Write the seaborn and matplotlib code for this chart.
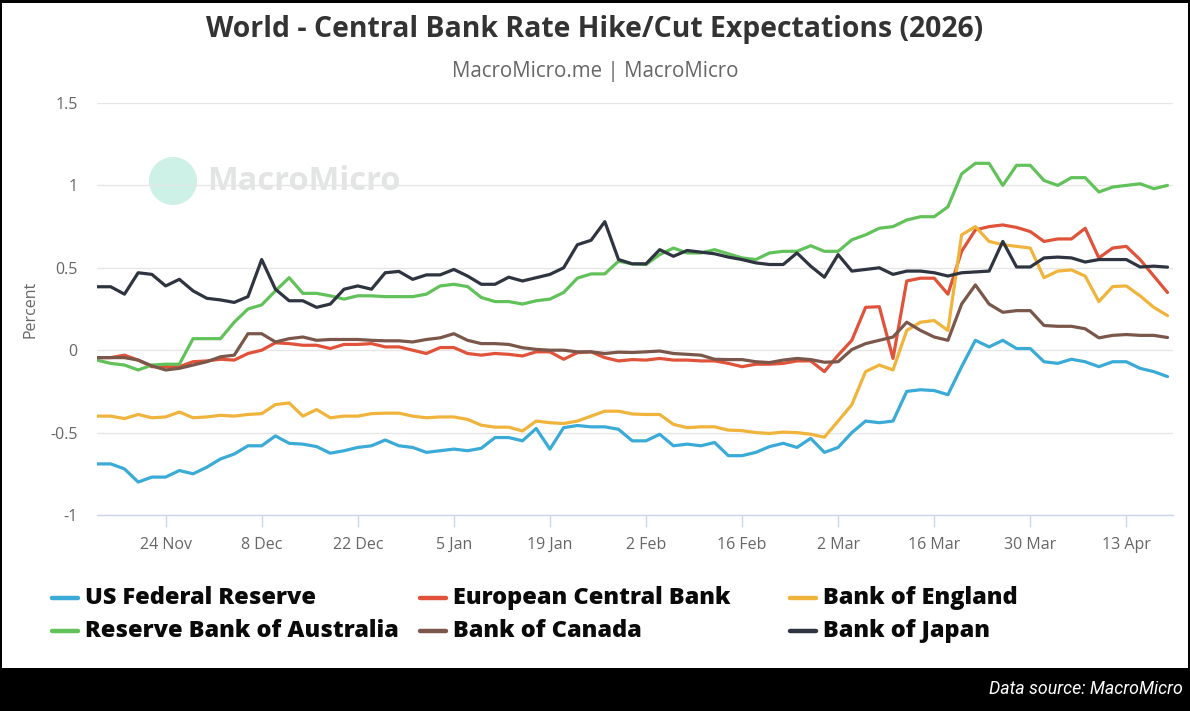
import matplotlib
matplotlib.use("Agg")
import pandas as pd
import matplotlib.pyplot as plt
from matplotlib.lines import Line2D
from matplotlib.patches import Rectangle, Ellipse
import seaborn as sns

# Données (un point tous les 2 jours)
dates = pd.date_range("2025-11-14", periods=79, freq="2D")

fed = [
    -0.69, -0.69, -0.72, -0.80, -0.77, -0.77, -0.73, -0.75, -0.71, -0.66,
    -0.63, -0.58, -0.58, -0.52, -0.565, -0.57, -0.585, -0.625, -0.61, -0.59,
    -0.58, -0.545, -0.58, -0.59, -0.62, -0.61, -0.60, -0.61, -0.595, -0.53,
    -0.53, -0.55, -0.475, -0.60, -0.47, -0.457, -0.465, -0.465, -0.48, -0.55,
    -0.55, -0.51, -0.58, -0.57, -0.58, -0.56, -0.64, -0.64, -0.62, -0.585,
    -0.565, -0.59, -0.535, -0.62, -0.59, -0.50, -0.43, -0.44, -0.43, -0.25,
    -0.24, -0.245, -0.27, -0.10, 0.06, 0.02, 0.06, 0.01, 0.01, -0.07,
    -0.08, -0.055, -0.07, -0.10, -0.07, -0.07, -0.11, -0.13, -0.16]

ecb = [
    -0.045, -0.045, -0.03, -0.06, -0.10, -0.10, -0.10, -0.07, -0.065, -0.055,
    -0.06, -0.02, 0.0, 0.045, 0.04, 0.03, 0.03, 0.01, 0.035, 0.035,
    0.04, 0.02, 0.02, 0.0, -0.02, 0.016, 0.016, -0.02, -0.03, -0.02,
    -0.025, -0.035, -0.01, -0.01, -0.055, -0.015, -0.01, -0.045, -0.065, -0.057,
    -0.06, -0.05, -0.06, -0.06, -0.065, -0.065, -0.08, -0.10, -0.085, -0.085,
    -0.08, -0.065, -0.065, -0.13, -0.03, 0.06, 0.26, 0.264, -0.05, 0.42,
    0.437, 0.437, 0.34, 0.60, 0.73, 0.75, 0.76, 0.745, 0.72, 0.66,
    0.675, 0.675, 0.74, 0.56, 0.62, 0.63, 0.55, 0.45, 0.35]

boe = [
    -0.40, -0.40, -0.415, -0.39, -0.41, -0.405, -0.375, -0.41, -0.405, -0.395,
    -0.40, -0.39, -0.385, -0.33, -0.32, -0.40, -0.36, -0.41, -0.40, -0.40,
    -0.385, -0.382, -0.382, -0.40, -0.41, -0.405, -0.405, -0.42, -0.455, -0.467,
    -0.467, -0.49, -0.43, -0.44, -0.445, -0.43, -0.40, -0.37, -0.37, -0.387,
    -0.39, -0.39, -0.45, -0.47, -0.465, -0.465, -0.485, -0.488, -0.50, -0.505,
    -0.497, -0.50, -0.51, -0.528, -0.43, -0.33, -0.13, -0.09, -0.12, 0.12,
    0.17, 0.18, 0.12, 0.70, 0.75, 0.66, 0.64, 0.63, 0.62, 0.44,
    0.48, 0.487, 0.45, 0.295, 0.386, 0.39, 0.33, 0.26, 0.21]

rba = [
    -0.06, -0.08, -0.09, -0.12, -0.09, -0.085, -0.085, 0.07, 0.07, 0.07,
    0.17, 0.25, 0.275, 0.36, 0.44, 0.345, 0.345, 0.33, 0.31, 0.33,
    0.33, 0.325, 0.325, 0.325, 0.34, 0.39, 0.40, 0.386, 0.32, 0.295,
    0.295, 0.28, 0.30, 0.31, 0.35, 0.437, 0.463, 0.463, 0.54, 0.524,
    0.52, 0.58, 0.62, 0.59, 0.59, 0.61, 0.585, 0.56, 0.55, 0.59,
    0.60, 0.60, 0.634, 0.60, 0.60, 0.67, 0.70, 0.74, 0.75, 0.79,
    0.81, 0.81, 0.87, 1.07, 1.134, 1.134, 1.0, 1.122, 1.122, 1.03,
    1.00, 1.047, 1.047, 0.96, 0.99, 1.0, 1.01, 0.98, 1.0]

boc = [
    -0.045, -0.045, -0.045, -0.06, -0.095, -0.12, -0.11, -0.09, -0.07, -0.04,
    -0.03, 0.10, 0.10, 0.05, 0.07, 0.08, 0.06, 0.065, 0.065, 0.065,
    0.06, 0.057, 0.057, 0.05, 0.065, 0.075, 0.10, 0.06, 0.04, 0.04,
    0.035, 0.015, 0.005, 0.0, 0.0, -0.01, -0.01, -0.02, -0.012, -0.014,
    -0.01, -0.005, -0.02, -0.025, -0.03, -0.055, -0.057, -0.057, -0.07, -0.075,
    -0.06, -0.05, -0.057, -0.073, -0.07, 0.004, 0.04, 0.06, 0.08, 0.17,
    0.12, 0.08, 0.06, 0.28, 0.396, 0.28, 0.23, 0.24, 0.24, 0.15,
    0.145, 0.145, 0.13, 0.075, 0.09, 0.095, 0.09, 0.09, 0.077]

boj = [
    0.385, 0.385, 0.34, 0.47, 0.46, 0.39, 0.43, 0.36, 0.315, 0.305,
    0.29, 0.325, 0.55, 0.37, 0.30, 0.30, 0.26, 0.28, 0.37, 0.39,
    0.37, 0.47, 0.478, 0.43, 0.457, 0.457, 0.49, 0.45, 0.40, 0.40,
    0.443, 0.42, 0.44, 0.46, 0.50, 0.64, 0.667, 0.78, 0.55, 0.524,
    0.524, 0.61, 0.57, 0.605, 0.595, 0.585, 0.565, 0.55, 0.53, 0.52,
    0.52, 0.59, 0.51, 0.443, 0.58, 0.48, 0.49, 0.50, 0.46, 0.48,
    0.48, 0.47, 0.45, 0.47, 0.475, 0.48, 0.66, 0.505, 0.505, 0.56,
    0.565, 0.56, 0.535, 0.55, 0.55, 0.55, 0.505, 0.51, 0.504]

banks = ["US Federal Reserve", "European Central Bank", "Bank of England",
         "Reserve Bank of Australia", "Bank of Canada", "Bank of Japan"]
colors = ["#3aabd7", "#e0523a", "#f0b43c", "#62c25a", "#7a574a", "#2e3440"]
tick_dates = pd.date_range("2025-11-24", periods=11, freq="14D")
y_ticks = [-1, -0.5, 0, 0.5, 1, 1.5]

df = pd.DataFrame({"date": dates, banks[0]: fed, banks[1]: ecb, banks[2]: boe,
                   banks[3]: rba, banks[4]: boc, banks[5]: boj})
long_df = df.melt(id_vars="date", var_name="bank", value_name="value")

sns.set_theme(style="white")
plt.rcParams["font.family"] = ["Open Sans", "DejaVu Sans"]

W, H = 1190, 711
fig = plt.figure(figsize=(W / 100, H / 100), dpi=100, facecolor="black")
# Panneau blanc (derrière les axes)
fig.patches.append(Rectangle((2 / W, 1 - 668 / H), 1186 / W, 665 / H,
                             transform=fig.transFigure, facecolor="white",
                             edgecolor="none", zorder=-2))

# Filigrane
fig.patches.append(Ellipse((173 / W, 1 - 181 / H), 48 / W, 48 / H,
                           transform=fig.transFigure, facecolor="#cdf1e6",
                           edgecolor="none", zorder=-1))
fig.text(207 / W, 1 - 182 / H, "MacroMicro", color="#e3e4e4", fontsize=23.5,
         fontweight="bold", va="center", ha="left", zorder=-1)

ax = fig.add_axes([97 / W, 1 - 515 / H, (1173 - 97) / W, (515 - 103) / H])
ax.set_facecolor("none")

sns.lineplot(data=long_df, x="date", y="value", hue="bank", hue_order=banks,
             palette=dict(zip(banks, colors)), linewidth=2.3, ax=ax,
             legend=False)

ax.set_xlim(dates[0], dates[0] + pd.Timedelta(days=156.8))
ax.set_ylim(-1, 1.5)
ax.set_yticks(y_ticks)
ax.set_yticklabels([f"{v:g}" for v in y_ticks])
ax.set_xticks(tick_dates)
ax.set_xticklabels([f"{d.day} {d.strftime('%b')}" for d in tick_dates])
ax.yaxis.grid(True, color="#e6e6e6", linewidth=1)
ax.set_axisbelow(True)
for side in ["top", "right", "left"]:
    ax.spines[side].set_visible(False)
ax.spines["bottom"].set_color("#ccd6eb")
ax.spines["bottom"].set_linewidth(1)
ax.tick_params(axis="x", length=8.5, width=1, color="#ccd6eb",
               labelsize=11.5, labelcolor="#666666", pad=7, bottom=True)
ax.tick_params(axis="y", length=0, labelsize=11.5, labelcolor="#666666", pad=14)
ax.set_xlabel("")
ax.set_ylabel("Percent", color="#666666", fontsize=11.5)
ax.yaxis.set_label_coords((38 - 97) / (1173 - 97), 0.5)

fig.text(0.5, 1 - 30 / H, "World - Central Bank Rate Hike/Cut Expectations (2026)",
         ha="center", va="center", fontsize=20.4, fontweight="bold", color="#333333")
fig.text(0.5, 1 - 71 / H, "MacroMicro.me | MacroMicro", ha="center", va="center",
         fontsize=14.8, color="#666666")

# Légende manuelle sur deux lignes
row_y = [598, 631]
col_x = [52, 420, 790]
for i, (name, col) in enumerate(zip(banks, colors)):
    y = 1 - row_y[i // 3] / H
    x0 = col_x[i % 3]
    fig.add_artist(Line2D([x0 / W, (x0 + 26) / W], [y, y], color=col,
                          linewidth=3.2, transform=fig.transFigure))
    fig.text((x0 + 33) / W, y, name, ha="left", va="center", fontsize=16.9,
             fontweight=800, family=["Open Sans", "DejaVu Sans"], color="#0a0a0a")

fig.text(1183 / W, 1 - 689 / H, "Data source: MacroMicro", ha="right", va="center",
         fontsize=12.8, style="italic", family=["Roboto", "DejaVu Sans"], color="white")

fig.savefig("out.png", dpi=100, facecolor=fig.get_facecolor())
